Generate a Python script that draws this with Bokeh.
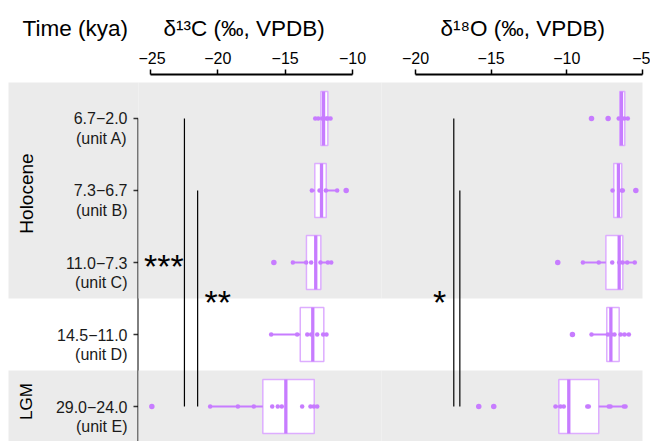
import math
from bokeh.plotting import figure
from bokeh.models import Range1d, LinearAxis, FixedTicker
from bokeh.layouts import row
from bokeh.core.properties import value
from bokeh.embed import file_html
from bokeh.resources import INLINE

# ---------------- data ----------------
periods = ["6.7\u22122.0", "7.3\u22126.7", "11.0\u22127.3", "14.5\u221211.0", "29.0\u221224.0"]
unit_labels = ["(unit A)", "(unit B)", "(unit C)", "(unit D)", "(unit E)"]
rows = [0, 1, 2, 3, 4]
groups = ["Holocene", "LGM"]
group_first = [0, 4]
group_last = [2, 4]

c13_ticks = [-25, -20, -15, -10]
o18_ticks = [-20, -15, -10, -5]

c13_lo = [-12.77, -13.02, -14.43, -16.04, -20.57]
c13_q1 = [-12.35, -12.80, -13.42, -13.88, -16.66]
c13_med = [-12.15, -12.30, -12.73, -12.95, -14.95]
c13_q3 = [-11.83, -11.95, -12.35, -12.13, -12.84]
c13_hi = [-11.63, -11.14, -11.56, -11.88, -12.62]
c13_out_row = [1, 2, 4]
c13_out_val = [-10.47, -15.84, -24.90]
c13_pts = [
    [-12.77, -12.55, -12.25, -11.95, -11.83, -11.63],
    [-13.02, -12.45, -11.98, -11.14],
    [-14.43, -13.44, -13.07, -12.38, -11.83, -11.58],
    [-16.04, -14.11, -13.36, -13.07, -12.62, -12.18, -11.93],
    [-20.57, -18.51, -17.33, -15.96, -15.55, -15.25, -13.74, -13.12, -12.87, -12.62],
]

o18_lo = [-6.57, -6.98, -8.94, -8.37, -10.75]
o18_q1 = [-6.50, -6.90, -7.42, -7.36, -10.53]
o18_med = [-6.39, -6.59, -6.54, -7.09, -9.87]
o18_q3 = [-6.17, -6.37, -6.30, -6.54, -7.89]
o18_hi = [-5.90, -6.30, -5.51, -5.90, -6.06]
o18_out_row = [0, 0, 1, 2, 3, 4, 4]
o18_out_val = [-8.37, -7.27, -5.44, -10.60, -9.63, -15.82, -14.83]
o18_pts = [
    [-6.57, -6.40, -6.21, -5.97],
    [-6.98, -6.37, -6.30],
    [-8.94, -7.89, -7.00, -6.54, -6.32, -6.01, -5.51],
    [-8.37, -7.29, -7.07, -6.85, -6.45, -6.19, -5.90],
    [-10.75, -10.42, -10.20, -8.65, -8.55, -7.23, -7.11, -6.23, -6.12],
]

c13_sig_x = [-22.48, -21.50]
c13_sig_from = [0, 1]
c13_sig_to = [4, 4]
o18_sig_x = [-17.47, -17.07]
o18_sig_from = [0, 1]
o18_sig_to = [4, 4]
c13_stars = ["***", "**"]
c13_star_x = [-24.0, -20.0]
c13_star_y = [2, 2.5]
o18_stars = ["*"]
o18_star_x = [-18.4]
o18_star_y = [2.5]

# ---------------- style ----------------
FONT_NAME = "Liberation Sans"
FONT = value(FONT_NAME)
PURPLE = "#C77CFF"
LIGHT = "#DDADFF"
BAND = "#EBEBEB"
BOX_H = 0.75
H = 441
TOP = 74
Y_RANGE = (4.486, -0.611)

def base_fig(width, xr, title, offset, border_left=0):
    p = figure(width=width, height=H, x_range=Range1d(*xr), y_range=Range1d(*Y_RANGE),
               output_backend="svg", toolbar_location=None, x_axis_location=None,
               y_axis_location=None, min_border_left=border_left, min_border_right=0,
               min_border_top=TOP, min_border_bottom=0, title=title)
    p.outline_line_color = None
    p.grid.visible = False
    p.background_fill_color = "white"
    p.border_fill_color = "white"
    p.title.align = "left"
    p.title.offset = offset
    p.title.standoff = 15
    p.title.text_font = FONT_NAME
    p.title.text_font_size = "22.5px"
    p.title.text_font_style = "normal"
    p.title.text_color = "#000000"
    # bands
    x0, x1 = xr[0] - 100, xr[1] + 100
    p.quad(left=[x0] * len(groups), right=[x1] * len(groups),
           bottom=[l + 0.5 for l in group_last], top=[f - 0.5 for f in group_first],
           fill_color=BAND, line_color=None)
    return p

def add_top_axis(p, ticks, bounds, visible=True):
    ax = LinearAxis(ticker=FixedTicker(ticks=ticks))
    if bounds is not None:
        ax.bounds = bounds
    ax.major_label_overrides = {t: (str(t).replace("-", "\u2212")) for t in ticks}
    ax.major_label_text_font = FONT_NAME
    ax.major_label_text_font_size = "16px"
    ax.major_label_text_color = "#000000"
    ax.major_label_standoff = 6
    ax.axis_line_width = 2
    ax.axis_line_color = "#000000"
    ax.major_tick_line_width = 1.5
    ax.major_tick_line_color = "#000000"
    ax.major_tick_out = 5
    ax.major_tick_in = 0
    ax.minor_tick_line_color = None
    if not visible:
        ax.major_label_text_color = "white"
        ax.axis_line_color = "white"
        ax.major_tick_line_color = "white"
    p.add_layout(ax, "above")

def draw_boxes(p, lo, q1, med, q3, hi, out_row, out_val, pts):
    p.hbar(y=rows, left=q1, right=q3, height=BOX_H, fill_color="white",
           line_color=LIGHT, line_width=1.5)
    p.segment(x0=lo, x1=q1, y0=rows, y1=rows, line_color=PURPLE, line_width=2)
    p.segment(x0=q3, x1=hi, y0=rows, y1=rows, line_color=PURPLE, line_width=2)
    p.segment(x0=med, x1=med, y0=[r - BOX_H / 2 for r in rows],
              y1=[r + BOX_H / 2 for r in rows], line_color=PURPLE, line_width=3.3)
    px, py = [], []
    for r, vals in zip(rows, pts):
        px += vals
        py += [r] * len(vals)
    p.scatter(x=px, y=py, size=4.5, fill_color=PURPLE, line_color=None)
    p.scatter(x=out_val, y=out_row, size=5.5, fill_color=PURPLE, line_color=None)

def draw_sig(p, xs, y0, y1, stars, sx, sy):
    p.segment(x0=xs, x1=xs, y0=y0, y1=y1, line_color="#000000", line_width=1.2)
    p.text(x=sx, y=sy, text=stars, text_font=FONT, text_font_size="34px",
           text_align="center", text_baseline="alphabetic", y_offset=3,
           text_color="#000000")

# ---------------- left label panel ----------------
pl = base_fig(140, (0, 132), "Time (kya)", 14, border_left=8)
add_top_axis(pl, [60], None, visible=False)
pl.text(x=[119] * 5, y=rows, text=periods, text_font=FONT, text_font_size="16px",
        text_align="right", text_baseline="middle", text_color="#1a1a1a")
pl.text(x=[119] * 5, y=rows, text=unit_labels, text_font=FONT, text_font_size="16px",
        text_align="right", text_baseline="middle", y_offset=20, text_color="#1a1a1a")
pl.segment(x0=[125] * 5, x1=[130] * 5, y0=rows, y1=rows, line_color="#333333", line_width=1.5)
pl.segment(x0=[130], x1=[130], y0=[rows[0]], y1=[Y_RANGE[0] + 0.1], line_color="#000000", line_width=2)
pl.text(x=[18], y=[(group_first[0] + group_last[0]) / 2], text=[groups[0]],
        angle=math.pi / 2, text_font=FONT, text_font_size="19px", y_offset=3,
        text_align="center", text_baseline="middle", text_color="#000000")
pl.text(x=[18], y=[(group_first[1] + group_last[1]) / 2], text=[groups[1]],
        angle=math.pi / 2, text_font=FONT, text_font_size="17px", y_offset=-5,
        text_align="center", text_baseline="middle", text_color="#000000")

# ---------------- d13C panel ----------------
pc = base_fig(245, (-25.891, -7.698), "\u03b4\u00b9\u00b3C (\u2030, VPDB)", 25)
pc.margin = (0, 0, 0, -2)
add_top_axis(pc, c13_ticks, (c13_ticks[0], c13_ticks[-1]))
draw_sig(pc, c13_sig_x, c13_sig_from, c13_sig_to, c13_stars, c13_star_x, c13_star_y)
draw_boxes(pc, c13_lo, c13_q1, c13_med, c13_q3, c13_hi, c13_out_row, c13_out_val, c13_pts)

# ---------------- d18O panel ----------------
po = base_fig(269, (-22.247, -4.471), "\u03b4\u00b9\u2078O (\u2030, VPDB)", 59)
po.margin = (0, 0, 0, -2)
po.quad(left=[-5], right=[10], bottom=[5], top=[-1], fill_color="white", line_color=None)
add_top_axis(po, o18_ticks, (o18_ticks[0], o18_ticks[-1]))
draw_sig(po, o18_sig_x, o18_sig_from, o18_sig_to, o18_stars, o18_star_x, o18_star_y)
draw_boxes(po, o18_lo, o18_q1, o18_med, o18_q3, o18_hi, o18_out_row, o18_out_val, o18_pts)

layout = row(pl, pc, po, spacing=0)
open("out.html", "w").write(file_html(layout, INLINE))
